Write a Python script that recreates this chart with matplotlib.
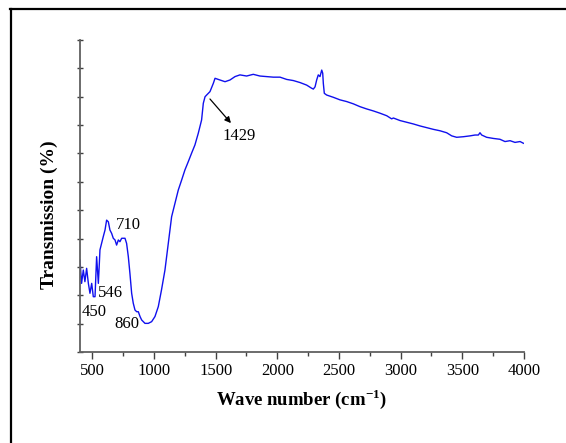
import matplotlib

matplotlib.use("Agg")
import matplotlib.pyplot as plt
from matplotlib.lines import Line2D

# FTIR spectrum (wavenumber in cm^-1, transmission in arbitrary %)
wavenumber = [
    400, 413, 427, 440, 454, 468, 481, 495, 508, 522, 535, 549, 557, 562, 589, 603,
    616, 630, 643, 657, 670, 684, 697, 711, 724, 738, 765, 778, 792, 805, 819, 832,
    846, 860, 873, 887, 900, 927, 954, 981, 1008, 1035, 1061, 1089, 1116, 1143, 1170,
    1197, 1224, 1251, 1278, 1305, 1332, 1359, 1386, 1400, 1414, 1427, 1454, 1481,
    1495, 1535, 1576, 1616, 1657, 1697, 1751, 1805, 1859, 1913, 1968, 2022, 2076,
    2130, 2184, 2238, 2278, 2292, 2306, 2319, 2332, 2346, 2360, 2368, 2373, 2381,
    2400, 2454, 2508, 2562, 2616, 2670, 2724, 2778, 2832, 2887, 2927, 2941, 2995,
    3049, 3103, 3157, 3211, 3265, 3319, 3373, 3414, 3454, 3508, 3562, 3603, 3630,
    3643, 3657, 3697, 3751, 3805, 3846, 3887, 3927, 3968, 3995,
]
transmission = [
    32.4, 24.2, 28.9, 24.8, 29.5, 24.2, 20.7, 24.2, 19.5, 19.5, 33.6, 24.2, 31.3, 36.0, 40.7, 43.0,
    46.5, 45.9, 43.0, 41.8, 40.1, 39.5, 37.7, 39.5, 38.9, 40.1, 40.1, 38.3, 33.6, 27.7, 20.7, 17.2,
    14.8, 14.2, 14.2, 12.5, 11.3, 10.1, 10.1, 10.7, 12.5, 16.0, 21.9, 28.9, 38.3, 47.7, 52.4,
    57.1, 60.6, 64.2, 67.1, 70.1, 73.0, 77.1, 81.8, 87.7, 90.0, 90.6, 91.8, 94.7,
    96.5, 95.9, 95.3, 95.9, 97.1, 97.7, 97.3, 97.9, 97.3, 97.1, 96.9, 96.9, 96.1,
    95.7, 95.0, 94.1, 93.0, 92.7, 93.5, 95.9, 97.7, 97.1, 99.4, 98.3, 94.7, 91.2,
    90.6, 89.8, 88.9, 88.3, 87.5, 86.5, 85.7, 85.0, 84.2, 83.3, 82.2, 82.5, 81.6,
    81.0, 80.4, 79.7, 79.1, 78.5, 78.0, 77.3, 76.2, 75.7, 75.9, 76.2, 76.5, 76.5,
    77.3, 76.5, 75.7, 75.3, 75.0, 74.2, 74.5, 73.9, 74.2, 73.6,
]

peak_labels = ["450", "546", "710", "860"]
peak_text_pos = [(416, 14.1), (546, 20.8), (692, 44.8), (676, 9.9)]

arrow_label = "1429"
arrow_start = (1454, 89.2)
arrow_end = (1624, 80.7)
arrow_text_pos = (1559, 76.3)

x_ticks = [500, 1000, 1500, 2000, 2500, 3000, 3500, 4000]
x_minor_ticks = [750, 1250, 1750, 2250, 2750, 3250, 3750]

plt.rcParams["font.family"] = ["Liberation Serif", "DejaVu Serif"]
plt.rcParams["mathtext.fontset"] = "custom"
plt.rcParams["mathtext.rm"] = "Liberation Serif"
plt.rcParams["mathtext.bf"] = "Liberation Serif:bold"

fig = plt.figure(figsize=(5.66, 4.43), dpi=100, facecolor="white")
ax = fig.add_axes([0.1413, 0.2054, 0.7845, 0.7043])

ax.plot(wavenumber, transmission, color="#1010ee", linewidth=1.0)

ax.set_xlim(400, 4000)
ax.set_ylim(0, 110)

ax.spines["top"].set_visible(False)
ax.spines["right"].set_visible(False)
for side in ("left", "bottom"):
    ax.spines[side].set_color("#606060")
    ax.spines[side].set_linewidth(1.3)

ax.set_xticks(x_ticks)
ax.set_xticks(x_minor_ticks, minor=True)
ax.set_yticks(range(0, 111, 10))
ax.set_yticklabels([])
ax.tick_params(axis="x", direction="out", length=5, width=1, color="#404040", labelsize=12, pad=3)
ax.tick_params(axis="x", which="minor", direction="out", length=3, width=1, color="#404040")
ax.tick_params(axis="y", direction="inout", length=4, width=1, color="#404040")

ax.set_xlabel(r"Wave number (cm$^{\mathbf{-1}}$)", fontsize=13.5, fontweight="bold", labelpad=6)
ax.set_ylabel("Transmission (%)", fontsize=14, fontweight="bold")
ax.yaxis.set_label_coords(-0.05, 0.44)

for label, (tx, ty) in zip(peak_labels, peak_text_pos):
    ax.text(tx, ty, label, fontsize=12, ha="left", va="center")

ax.annotate(
    "",
    xy=arrow_end,
    xytext=arrow_start,
    arrowprops=dict(arrowstyle="-|>", color="black", lw=0.9, mutation_scale=9, shrinkA=0, shrinkB=0),
)
ax.text(arrow_text_pos[0], arrow_text_pos[1], arrow_label, fontsize=12, ha="left", va="center")

# outer frame lines (top and left edges only)
fig.add_artist(Line2D([10 / 566, 1.0], [1 - 9 / 443, 1 - 9 / 443], transform=fig.transFigure, color="black", linewidth=1.6))
fig.add_artist(Line2D([11 / 566, 11 / 566], [0.0, 1 - 9 / 443], transform=fig.transFigure, color="black", linewidth=1.6))

fig.savefig("out.png", dpi=100, facecolor="white")
